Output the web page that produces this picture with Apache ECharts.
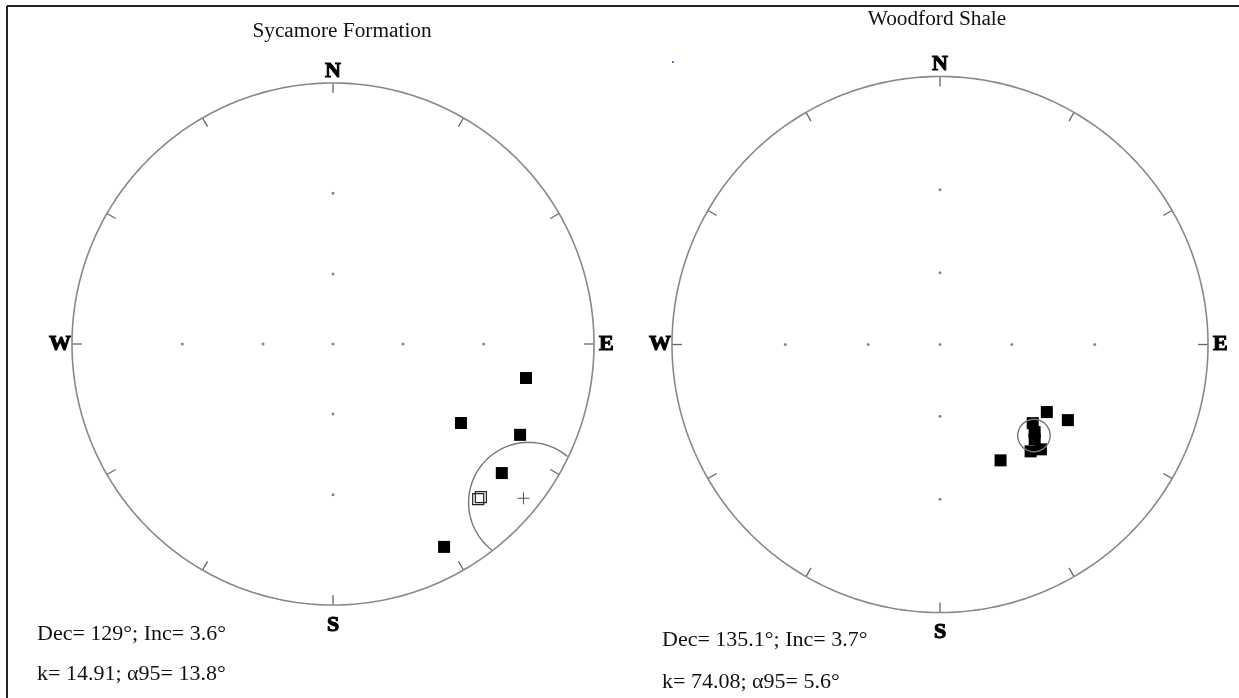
<!DOCTYPE html>
<html>
<head>
<meta charset="utf-8">
<script src="https://cdn.jsdelivr.net/npm/echarts@6/dist/echarts.min.js"></script>
<style>
html, body { margin: 0; padding: 0; background: #fff; }
#main { width: 1239px; height: 698px; }
</style>
</head>
<body>
<div id="main"></div>
<script>
// directions, [declination, inclination] in degrees
var sycDown = [[100.0, 16.2], [121.7, 30.1], [115.9, 12.9], [127.4, 11.7], [151.3, 6.9]];
var sycUp = [[136.0, -11.6], [136.9, -11.7]];
var sycMean = [129, 3.6];
var sycA95 = 13.8;

var woodDown = [[122.3, 39.5], [120.6, 32.0], [130.3, 41.2], [132.8, 38.6], [135.0, 36.9], [139.7, 34.8], [136.1, 33.0], [152.4, 38.0]];
var woodUp = [];
var woodMean = [134.1, 38.1];
var woodA95 = 5.6;

var titles = ['Sycamore Formation', 'Woodford Shale'];
var statLines = [
    ['Dec= 129°; Inc= 3.6°', 'k= 14.91; α95= 13.8°'],
    ['Dec= 135.1°; Inc= 3.7°', 'k= 74.08; α95= 5.6°']
];
var tickAz = [0, 30, 60, 90, 120, 150, 180, 210, 240, 270, 300, 330];
var dotInc = [60, 30];
var dotAz = [0, 90, 180, 270];
var cardinals = ['N', 'E', 'S', 'W'];
var cardinalAz = [0, 90, 180, 270];

var rad = Math.PI / 180;
var lim = 1.1;

// stereographic (equal angle) projection, lower hemisphere
function proj(dec, inc) {
    var r = Math.tan((90 - Math.abs(inc)) / 2 * rad);
    return [r * Math.sin(dec * rad), r * Math.cos(dec * rad)];
}

// small circle of radius a around the mean, only the part with inc >= 0
function cone(mean, a) {
    var D = mean[0] * rad, I = mean[1] * rad, al = a * rad;
    var m = [Math.cos(I) * Math.cos(D), Math.cos(I) * Math.sin(D), Math.sin(I)];
    var u = [-Math.sin(D), Math.cos(D), 0];
    var w = [m[1] * u[2] - m[2] * u[1], m[2] * u[0] - m[0] * u[2], m[0] * u[1] - m[1] * u[0]];
    var out = [];
    for (var t = 0; t <= 360; t += 2) {
        var c = Math.cos(t * rad), s = Math.sin(t * rad);
        var v = [0, 1, 2].map(function (k) {
            return Math.cos(al) * m[k] + Math.sin(al) * (c * u[k] + s * w[k]);
        });
        var inc = Math.asin(v[2]) / rad;
        var dec = Math.atan2(v[1], v[0]) / rad;
        if (inc < 0) out.push([null, null]);
        else out.push(proj(dec, inc));
    }
    return out;
}

var primitive = [];
for (var a = 0; a <= 360; a += 1) primitive.push([Math.sin(a * rad), Math.cos(a * rad)]);

var dots = [[0, 0]];
dotInc.forEach(function (i) { dotAz.forEach(function (d) { dots.push(proj(d, i)); }); });

var plots = [
    { cx: 333, cy: 344, R: 261, down: sycDown, up: sycUp, mean: sycMean, a95: sycA95 },
    { cx: 940, cy: 344.5, R: 268, down: woodDown, up: woodUp, mean: woodMean, a95: woodA95 }
];

// where each letter sits against its point on the circle: dx, dy, align, vertical align
var labelPlace = {
    N: [0, -1, 'center', 'bottom'],
    E: [5, 0, 'left', 'middle'],
    S: [0, 9, 'center', 'top'],
    W: [-1, 0, 'right', 'middle']
};

var grids = [], xAxes = [], yAxes = [], series = [];
plots.forEach(function (p, gi) {
    var half = p.R * lim;
    grids.push({ left: p.cx - half, top: p.cy - half, width: 2 * half, height: 2 * half });
    var ax = { type: 'value', gridIndex: gi, min: -lim, max: lim, show: false, splitLine: { show: false } };
    xAxes.push(ax);
    yAxes.push(Object.assign({}, ax));

    series.push({
        type: 'line', xAxisIndex: gi, yAxisIndex: gi, data: primitive, symbol: 'none', silent: true,
        lineStyle: { color: '#888', width: 1.6 }, clip: false
    });
    series.push({
        type: 'custom', xAxisIndex: gi, yAxisIndex: gi, data: tickAz, silent: true, clip: false,
        renderItem: function (params, api) {
            var az = api.value(0) * rad;
            var c0 = api.coord([0, 0]);
            var p1 = api.coord([Math.sin(az), Math.cos(az)]);
            var dx = p1[0] - c0[0], dy = p1[1] - c0[1], len = Math.sqrt(dx * dx + dy * dy);
            var p0 = [p1[0] - dx / len * 10, p1[1] - dy / len * 10];
            return {
                type: 'line',
                shape: { x1: p0[0], y1: p0[1], x2: p1[0], y2: p1[1] },
                style: { stroke: '#666', lineWidth: 1.3 }
            };
        }
    });
    series.push({
        type: 'scatter', xAxisIndex: gi, yAxisIndex: gi, data: dots, symbol: 'circle', symbolSize: 3,
        itemStyle: { color: '#888', opacity: 1 }, silent: true
    });
    series.push({
        type: 'line', xAxisIndex: gi, yAxisIndex: gi, data: cone(p.mean, p.a95), symbol: 'none',
        connectNulls: false, silent: true, clip: false,
        lineStyle: { color: '#777', width: 1.4 }
    });
    series.push({
        type: 'scatter', xAxisIndex: gi, yAxisIndex: gi, data: [proj(p.mean[0], p.mean[1])],
        symbol: 'path://M5.5,0L6.5,0L6.5,12L5.5,12ZM0,5.5L12,5.5L12,6.5L0,6.5Z', symbolSize: 12,
        itemStyle: { color: '#555', opacity: 1 }, silent: true
    });
    series.push({
        type: 'scatter', xAxisIndex: gi, yAxisIndex: gi,
        data: p.down.map(function (d) { return proj(d[0], d[1]); }),
        symbol: 'rect', symbolSize: 12, itemStyle: { color: '#000', opacity: 1 }, silent: true
    });
    series.push({
        type: 'scatter', xAxisIndex: gi, yAxisIndex: gi,
        data: p.up.map(function (d) { return proj(d[0], d[1]); }),
        symbol: 'rect', symbolSize: 11,
        itemStyle: { color: 'rgba(255,255,255,0)', borderColor: '#222', borderWidth: 1.2, opacity: 1 }, silent: true
    });
    series.push({
        type: 'custom', xAxisIndex: gi, yAxisIndex: gi, silent: true, clip: false,
        data: cardinalAz.map(function (az, k) { return [az, k]; }),
        renderItem: function (params, api) {
            var az = api.value(0) * rad;
            var name = cardinals[api.value(1)];
            var pl = labelPlace[name];
            var pt = api.coord([Math.sin(az), Math.cos(az)]);
            return {
                type: 'text',
                x: pt[0] + pl[0], y: pt[1] + pl[1],
                style: {
                    text: name, font: 'bold 22px "Liberation Serif"', fill: '#000',
                    textAlign: pl[2], textVerticalAlign: pl[3],
                    stroke: '#000', lineWidth: 1.1
                }
            };
        }
    });
});

var textFont = '22px "Liberation Serif"';
var titleFont = '21.3px "Liberation Serif"';
var graphic = [
    { type: 'line', shape: { x1: 7, y1: 6, x2: 1239, y2: 6 }, style: { stroke: '#222', lineWidth: 2 } },
    { type: 'line', shape: { x1: 7, y1: 6, x2: 7, y2: 698 }, style: { stroke: '#222', lineWidth: 2 } },
    { type: 'circle', shape: { cx: 673, cy: 62, r: 1 }, style: { fill: '#3344cc' } },
    { type: 'text', x: 342, y: 31, style: { text: titles[0], font: titleFont, fill: '#111', textAlign: 'center', textVerticalAlign: 'middle' } },
    { type: 'text', x: 937, y: 19, style: { text: titles[1], font: titleFont, fill: '#111', textAlign: 'center', textVerticalAlign: 'middle' } },
    { type: 'text', x: 37, y: 634, style: { text: statLines[0][0], font: textFont, fill: '#111', textVerticalAlign: 'middle' } },
    { type: 'text', x: 37, y: 674, style: { text: statLines[0][1], font: textFont, fill: '#111', textVerticalAlign: 'middle' } },
    { type: 'text', x: 662, y: 640, style: { text: statLines[1][0], font: textFont, fill: '#111', textVerticalAlign: 'middle' } },
    { type: 'text', x: 662, y: 682, style: { text: statLines[1][1], font: textFont, fill: '#111', textVerticalAlign: 'middle' } }
];

var myChart = echarts.init(document.getElementById('main'));
myChart.setOption({
    animation: false,
    backgroundColor: '#fff',
    grid: grids,
    xAxis: xAxes,
    yAxis: yAxes,
    graphic: graphic,
    series: series
});
</script>
</body>
</html>
